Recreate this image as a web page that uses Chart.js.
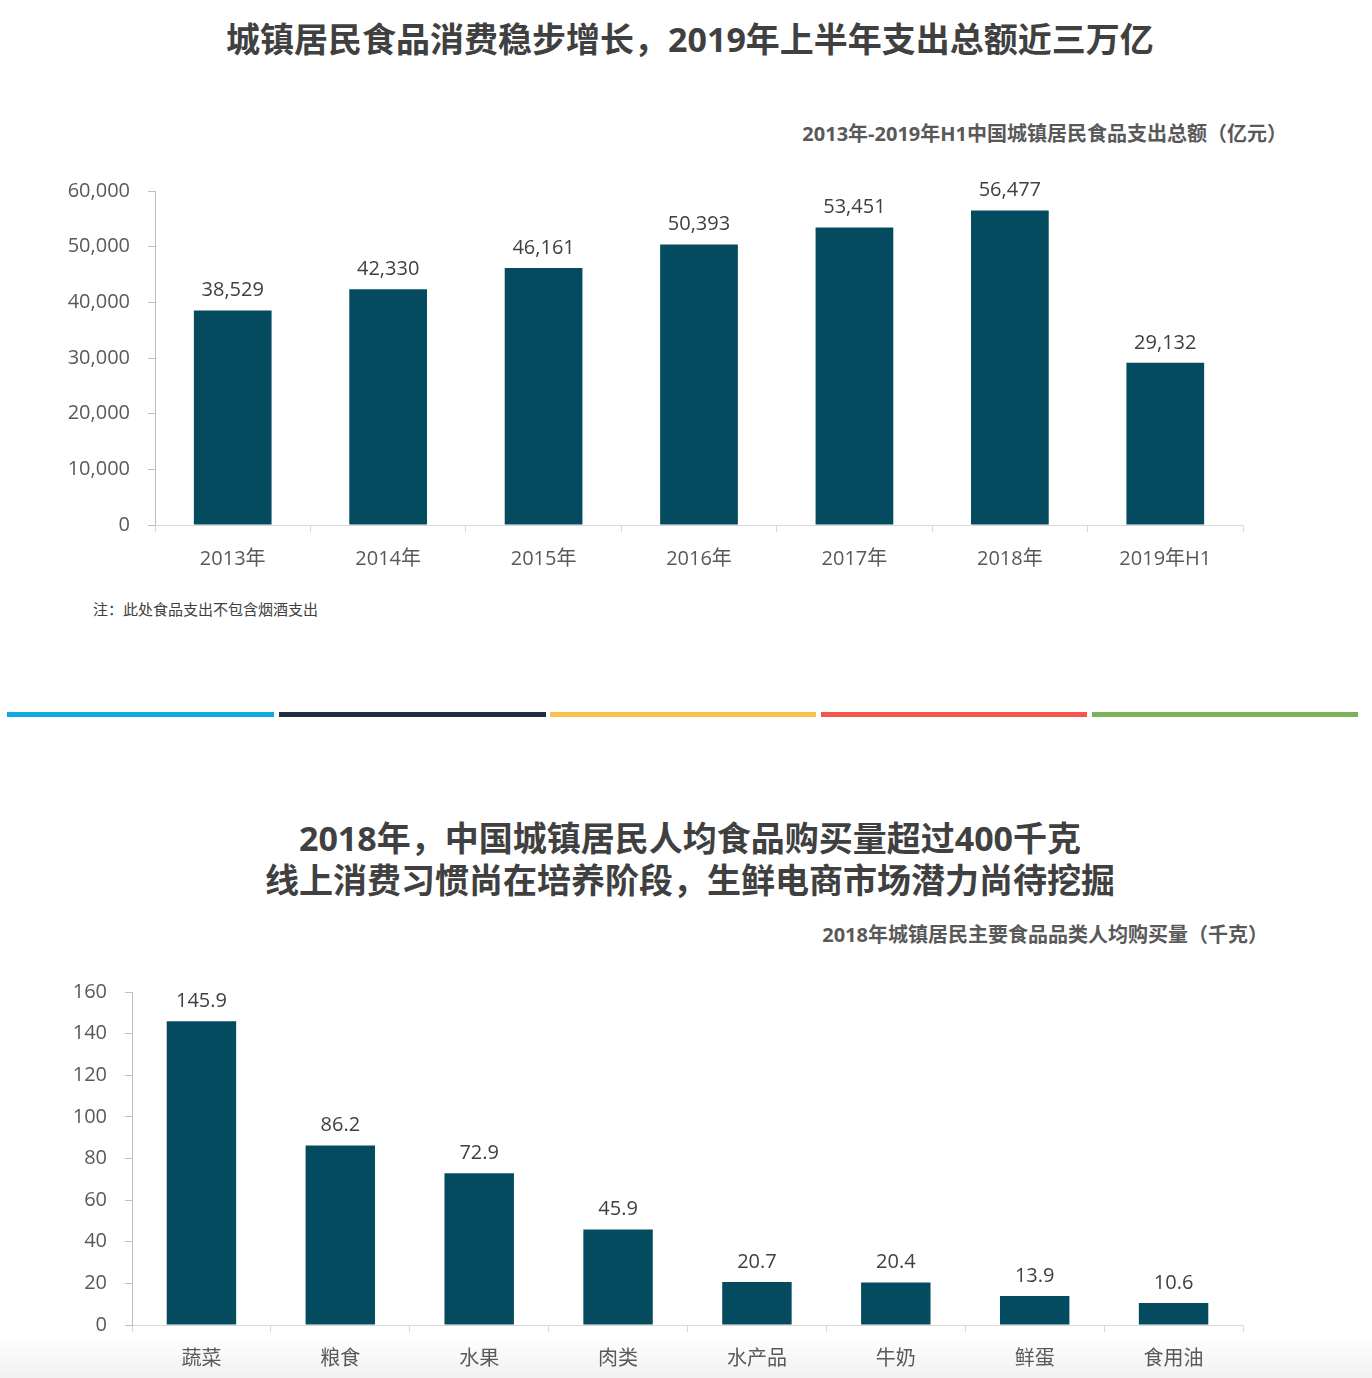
<!DOCTYPE html>
<html>
<head>
<meta charset="utf-8">
<script src="https://cdn.jsdelivr.net/npm/chart.js@4.4.0/dist/chart.umd.min.js"></script>
<style>
  body { margin: 0; width: 1372px; height: 1378px; background: #fff; position: relative; overflow: hidden;
         font-family: "Open Sans", "Noto Sans CJK SC", sans-serif; }
  .title { position: absolute; left: 0; width: 1380px; text-align: center; font-weight: bold; font-size: 34px;
           color: #404040; line-height: 42px; }
  .sub { position: absolute; font-weight: bold; font-size: 20px; color: #595959; text-align: right; }
  .note { position: absolute; left: 93px; top: 598px; font-size: 15px; color: #404040; }
  .bar { position: absolute; top: 712px; height: 5px; }
  .box { position: absolute; left: 0; width: 1300px; }
  .fade { position: absolute; left: 0; top: 1335px; width: 1372px; height: 43px;
          background: linear-gradient(#ffffff, #f1f1f1); }
</style>
</head>
<body>
<div class="fade"></div>
<div class="title" style="top:18px;">城镇居民食品消费稳步增长，2019年上半年支出总额近三万亿</div>
<div class="sub" style="right:85px; top:118px;">2013年-2019年H1中国城镇居民食品支出总额（亿元）</div>
<div class="box" style="top:151px; height:430px;"><canvas id="chart1"></canvas></div>
<div class="note">注：此处食品支出不包含烟酒支出</div>

<div class="bar" style="left:7px; width:267px; background:#10a9e2;"></div>
<div class="bar" style="left:279px; width:267px; background:#1f2d3d;"></div>
<div class="bar" style="left:550px; width:266px; background:#f7c250;"></div>
<div class="bar" style="left:821px; width:266px; background:#f5584a;"></div>
<div class="bar" style="left:1092px; width:266px; background:#7cb25a;"></div>

<div class="title" style="top:817px;">2018年，中国城镇居民人均食品购买量超过400千克<br>线上消费习惯尚在培养阶段，生鲜电商市场潜力尚待挖掘</div>
<div class="sub" style="right:104px; top:919px;">2018年城镇居民主要食品品类人均购买量（千克）</div>
<div class="box" style="top:961px; height:417px;"><canvas id="chart2"></canvas></div>

<script>
// 食品支出总额（亿元）
var years = ['2013年', '2014年', '2015年', '2016年', '2017年', '2018年', '2019年H1'];
var spending = [38529, 42330, 46161, 50393, 53451, 56477, 29132];

// 人均购买量（千克）
var foods = ['蔬菜', '粮食', '水果', '肉类', '水产品', '牛奶', '鲜蛋', '食用油'];
var perCapita = [145.9, 86.2, 72.9, 45.9, 20.7, 20.4, 13.9, 10.6];

var barColor = '#044b60';
var fontFam = '"Open Sans", "Noto Sans CJK SC", sans-serif';

function withCommas(v) {
    return Number(v).toLocaleString('en-US');
}

// draw value above every bar
function valueLabels(fmt) {
    return {
        id: 'valueLabels',
        afterDatasetsDraw: function(chart) {
            var ctx = chart.ctx;
            ctx.save();
            ctx.font = '20px ' + fontFam;
            ctx.fillStyle = '#404040';
            ctx.textAlign = 'center';
            ctx.textBaseline = 'bottom';
            chart.getDatasetMeta(0).data.forEach(function(bar, i) {
                ctx.fillText(fmt(chart.data.datasets[0].data[i]), bar.x, bar.y - 10);
            });
            ctx.restore();
        }
    };
}

function makeChart(id, labels, data, opts, fmt) {
    var ctx = document.getElementById(id).getContext('2d');
    return new Chart(ctx, {
        type: 'bar',
        data: {
            labels: labels,
            datasets: [{
                data: data,
                backgroundColor: barColor,
                barPercentage: 0.5,
                categoryPercentage: 1
            }]
        },
        options: {
            responsive: true,
            maintainAspectRatio: false,
            animation: false,
            layout: { padding: { top: opts.top, right: 57, left: 0, bottom: 0 } },
            plugins: {
                legend: { display: false },
                tooltip: { enabled: false }
            },
            scales: {
                x: {
                    grid: { display: true, drawOnChartArea: false, offset: true, tickLength: 7, color: '#d9d9d9' },
                    border: { color: '#d9d9d9' },
                    ticks: { color: '#595959', font: { size: 20, family: fontFam }, padding: 15 },
                    afterFit: function(scale) { scale.height = opts.xh; }
                },
                y: {
                    min: 0,
                    max: opts.max,
                    grid: { display: true, drawOnChartArea: false, tickLength: 7, color: '#bfbfbf' },
                    border: { color: '#bfbfbf' },
                    ticks: {
                        stepSize: opts.step,
                        color: '#595959',
                        font: { size: 20, family: fontFam },
                        padding: opts.ypad,
                        callback: function(v) { return withCommas(v); }
                    },
                    afterFit: function(scale) { scale.width = opts.yw; }
                }
            }
        },
        plugins: [valueLabels(fmt)]
    });
}

makeChart('chart1', years, spending,
    { top: 40, xh: 56, yw: 155, ypad: 18, max: 60000, step: 10000 },
    withCommas);

makeChart('chart2', foods, perCapita,
    { top: 31, xh: 53, yw: 132, ypad: 18, max: 160, step: 20 },
    function(v) { return v.toFixed(1); });
</script>
</body>
</html>
